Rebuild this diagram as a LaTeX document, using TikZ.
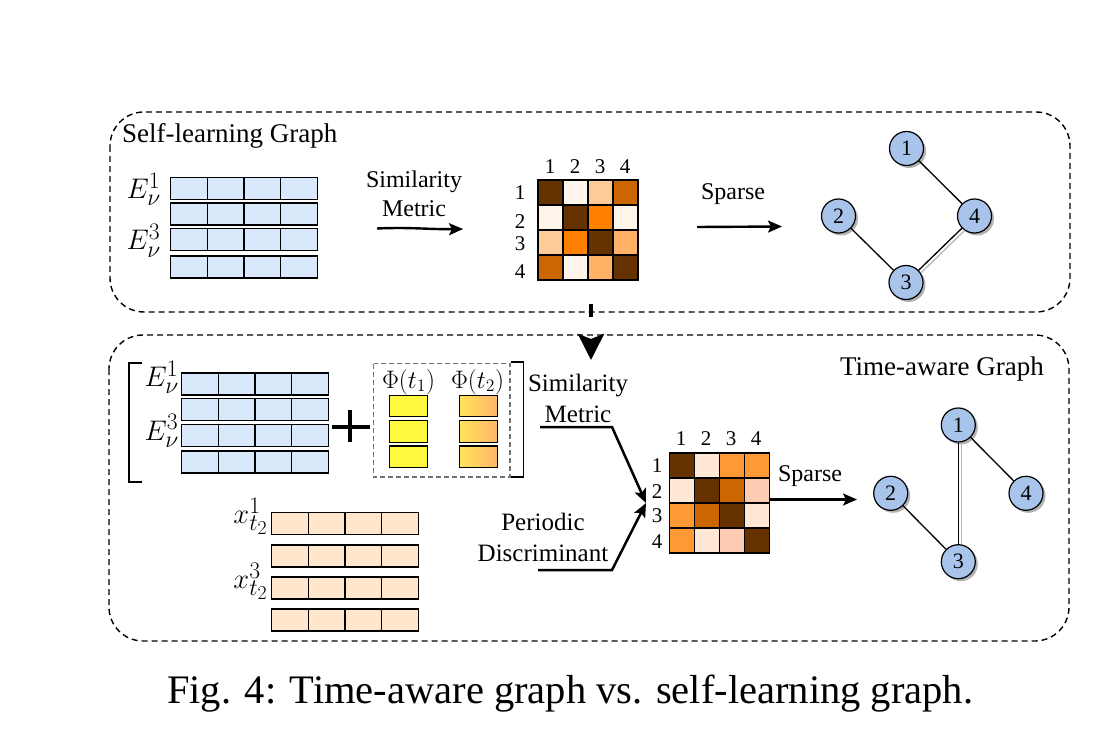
\documentclass[tikz,border=0pt]{standalone}
\usepackage{fontspec}
\setmainfont{Liberation Serif}
\usetikzlibrary{arrows.meta,calc,shadows}
\definecolor{embblue}{HTML}{DAE8FC}
\definecolor{embpeach}{HTML}{FFE6CC}
\definecolor{nodeblue}{HTML}{A9C4EB}
\definecolor{phiyel}{HTML}{FFF83F}
\definecolor{phiyelb}{HTML}{FFE45A}
\definecolor{phiora}{HTML}{FFB56A}
\definecolor{mA}{HTML}{663300}
\definecolor{mB}{HTML}{FFF5EB}
\definecolor{mC}{HTML}{FDCB98}
\definecolor{mD}{HTML}{CC6600}
\definecolor{mE}{HTML}{FF8000}
\definecolor{mF}{HTML}{FFB266}
\definecolor{mG}{HTML}{FF9933}
\definecolor{mH}{HTML}{FFE8D6}
\definecolor{mI}{HTML}{FFCBB3}
\newcommand\bigmath[1]{\scalebox{1.14}{\fontsize{24.88}{26}\selectfont$#1$}}
\newcommand\phimath[1]{\scalebox{1.22}{\fontsize{20.74}{22}\selectfont$#1$}}
\begin{document}
\begin{tikzpicture}[x=1pt,y=-1pt,
  emb/.style={draw, line width=1.4pt, minimum width=147pt, minimum height=22pt, inner sep=0pt,
    path picture={\foreach \k in {1,2,3}{\draw[line width=1.4pt]
      ($(path picture bounding box.north west)!\k/4!(path picture bounding box.north east)$) --
      ($(path picture bounding box.south west)!\k/4!(path picture bounding box.south east)$);}}},
  phibox/.style={draw, line width=1.4pt, minimum width=38pt, minimum height=21.5pt, inner sep=0pt},
  gnode/.style={circle, draw, line width=1.2pt, fill=nodeblue, minimum size=34pt, inner sep=0pt,
    font=\fontsize{22}{22}\selectfont,
    drop shadow={shadow xshift=2.5pt, shadow yshift=-2.5pt, fill=black!30, opacity=1}},
  gedge/.style={line width=1.3pt},
  gshadow/.style={line width=1.3pt, black!28},
  ptxt/.style={font=\fontsize{24}{29}\selectfont, align=center, inner sep=0pt},
  mlab/.style={font=\fontsize{21}{21}\selectfont, inner sep=0pt},
  mathlab/.style={inner sep=0pt},
  bigarrow/.style={line width=2.4pt, -{Stealth[length=14pt,width=12pt,inset=3pt]}},
  dashbox/.style={line width=1.4pt, dash pattern=on 6pt off 4pt, rounded corners=34pt},
  mframe/.style={draw, line width=1.4pt, minimum size=100pt, inner sep=0pt}
]
\useasboundingbox (0,0) rectangle (1108,751);
\fill[white] (0,0) rectangle (1108,751);

% ---------------- panels
\draw[dashbox] (110,112) rectangle (1070,312);
\draw[dashbox] (109,335) rectangle (1069,641);
\node[font=\fontsize{27}{27}\selectfont, anchor=base west, inner sep=0pt] (t1) at (122,143) {Self-learning Graph};
\node[font=\fontsize{27}{27}\selectfont, anchor=base, inner sep=0pt] (t2) at (942,375) {Time-aware Graph};

% ---------------- top embeddings
\node[emb, fill=embblue] (a1) at (244,188.5) {};
\node[emb, fill=embblue] (a2) at (244,214) {};
\node[emb, fill=embblue] (a3) at (244,239.5) {};
\node[emb, fill=embblue] (a4) at (244,267) {};
\node[mathlab, anchor=base east] (la1) at (161,198.3) {\bigmath{E_\nu^1}};
\node[mathlab, anchor=base east] (la3) at (161,250) {\bigmath{E_\nu^3}};

\node[ptxt] (sm1) at (414,193.5) {Similarity\\Metric};
\coordinate (s1a) at (377,228.5);
\coordinate (s1b) at (463,229);
\draw[bigarrow] (s1a) .. controls (410,227) and (430,229.5) .. (s1b);

% ---------------- top matrix
\foreach \c [count=\j from 0] in {mA,mB,mC,mD}{\fill[\c] (538+\j*25,180) rectangle ++(25,25);}
\foreach \c [count=\j from 0] in {mB,mA,mE,mB}{\fill[\c] (538+\j*25,205) rectangle ++(25,25);}
\foreach \c [count=\j from 0] in {mC,mE,mA,mF}{\fill[\c] (538+\j*25,230) rectangle ++(25,25);}
\foreach \c [count=\j from 0] in {mD,mB,mF,mA}{\fill[\c] (538+\j*25,255) rectangle ++(25,25);}
\foreach \j in {1,2,3}{
  \draw[line width=1.4pt] (538+\j*25,180) -- (538+\j*25,280);
  \draw[line width=1.4pt] (538,180+\j*25) -- (638,180+\j*25);}
\node[mframe] (M1) at (588,230) {};
\foreach \n [count=\j from 0] in {1,2,3,4}{\node[mlab] (M1c\n) at (550+\j*25,167) {\n};}
\node[mlab] (M1r1) at (520,193) {1};
\node[mlab] (M1r2) at (520,221.5) {2};
\node[mlab] (M1r3) at (520,244) {3};
\node[mlab] (M1r4) at (520,271.5) {4};

\node[ptxt, anchor=base] (sp1) at (733,200) {Sparse};
\coordinate (p1a) at (697,227);
\coordinate (p1b) at (782,226.5);
\draw[bigarrow] (p1a) -- (p1b);

% ---------------- top graph
\node[gnode] (u1) at (906.5,148.5) {1};
\node[gnode] (u2) at (838.5,216) {2};
\node[gnode] (u4) at (974.5,216) {4};
\node[gnode] (u3) at (906,282.5) {3};
\draw[gshadow, transform canvas={xshift=2.5pt,yshift=-2.5pt}] (u3) -- (u4);
\draw[gedge] (u1) -- (u4);
\draw[gedge] (u2) -- (u3);
\draw[gedge] (u3) -- (u4);

% ---------------- down arrow
\coordinate (d1) at (591,304);
\coordinate (d2) at (591,360);
\draw[line width=4pt, dash pattern=on 13pt off 30pt, -{Stealth[length=26pt,width=26pt,inset=5pt]}] (d1) -- (d2);

% ---------------- bottom embeddings
\draw[line width=1.5pt] (142,363) -- (129,363) -- (129,482) -- (142,482);
\node[emb, fill=embblue] (b1) at (255,384) {};
\node[emb, fill=embblue] (b2) at (255,409.5) {};
\node[emb, fill=embblue] (b3) at (255,435.5) {};
\node[emb, fill=embblue] (b4) at (255,462) {};
\node[mathlab, anchor=base east] (lb1) at (179,386.7) {\bigmath{E_\nu^1}};
\node[mathlab, anchor=base east] (lb3) at (179,440) {\bigmath{E_\nu^3}};

\draw[line width=3.5pt] (331.5,427) -- (370,427);
\draw[line width=3.5pt] (350,410) -- (350,442);

\draw[black!55, line width=1.3pt, dash pattern=on 5pt off 3pt] (373.5,363.5) rectangle (510,477);
\node[anchor=base, inner sep=0pt] (ph1) at (408.5,388) {\phimath{\Phi(t_1)}};
\node[anchor=base, inner sep=0pt] (ph2) at (477.5,388) {\phimath{\Phi(t_2)}};
\node[phibox, fill=phiyel] (y1) at (408.3,406) {};
\node[phibox, fill=phiyel] (y2) at (408.3,431.5) {};
\node[phibox, fill=phiyel] (y3) at (408.3,456.7) {};
\node[phibox, left color=phiyelb, right color=phiora] (z1) at (478.3,406) {};
\node[phibox, left color=phiyelb, right color=phiora] (z2) at (478.3,431.5) {};
\node[phibox, left color=phiyelb, right color=phiora] (z3) at (478.3,456.7) {};
\draw[line width=1.5pt] (511,362) -- (523.5,362) -- (523.5,477) -- (511,477);

% x_{t2} rows
\node[emb, fill=embpeach] (c1) at (345,523.5) {};
\node[emb, fill=embpeach] (c2) at (345,556) {};
\node[emb, fill=embpeach] (c3) at (345,588) {};
\node[emb, fill=embpeach] (c4) at (345,620) {};
\node[mathlab, anchor=base east] (lc1) at (268,523.3) {\bigmath{x_{t_2}^1}};
\node[mathlab, anchor=base east] (lc3) at (268,588.3) {\bigmath{x_{t_2}^3}};

% labels and merging arrows
\node[ptxt, font=\fontsize{25}{31}\selectfont] (sm2) at (578,398.7) {Similarity\\Metric};
\node[ptxt, font=\fontsize{25}{31}\selectfont] (pd) at (543,537.6) {Periodic\\Discriminant};
\coordinate (m2in) at (646,503);
\coordinate (q1) at (540,427);
\coordinate (q2) at (612,427);
\coordinate (r1) at (538,570);
\coordinate (r2) at (612,570);
\draw[line width=2.5pt, -{Stealth[length=14pt,width=12pt,inset=3pt]}] (q1) -- (q2) -- (m2in);
\draw[line width=2.5pt, -{Stealth[length=14pt,width=12pt,inset=3pt]}] (r1) -- (r2) -- (m2in);

% ---------------- bottom matrix
\foreach \c [count=\j from 0] in {mA,mH,mG,mG}{\fill[\c] (669.5+\j*25,453) rectangle ++(25,25);}
\foreach \c [count=\j from 0] in {mH,mA,mD,mI}{\fill[\c] (669.5+\j*25,478) rectangle ++(25,25);}
\foreach \c [count=\j from 0] in {mG,mD,mA,mH}{\fill[\c] (669.5+\j*25,503) rectangle ++(25,25);}
\foreach \c [count=\j from 0] in {mG,mH,mI,mA}{\fill[\c] (669.5+\j*25,528) rectangle ++(25,25);}
\foreach \j in {1,2,3}{
  \draw[line width=1.4pt] (669.5+\j*25,453) -- (669.5+\j*25,553);
  \draw[line width=1.4pt] (669.5,453+\j*25) -- (769.5,453+\j*25);}
\node[mframe] (M2) at (719.5,503) {};
\foreach \n [count=\j from 0] in {1,2,3,4}{\node[mlab] (M2c\n) at (681+\j*25,439) {\n};}
\node[mlab] (M2r1) at (657,466) {1};
\node[mlab] (M2r2) at (657,491.5) {2};
\node[mlab] (M2r3) at (657,516) {3};
\node[mlab] (M2r4) at (657,541.5) {4};

\node[ptxt, anchor=base] (sp2) at (810,481) {Sparse};
\coordinate (p2b) at (857,499.5);
\draw[bigarrow] (M2.east |- p2b) -- (p2b);

% ---------------- bottom graph
\node[gnode] (v1) at (958.3,425) {1};
\node[gnode] (v2) at (890.7,493.3) {2};
\node[gnode] (v4) at (1026,493.3) {4};
\node[gnode] (v3) at (958.3,561.7) {3};
\draw[gshadow, transform canvas={xshift=3pt}] (v1) -- (v3);
\draw[gedge] (v1) -- (v3);
\draw[gedge] (v1) -- (v4);
\draw[gedge] (v2) -- (v3);

% ---------------- caption
\node[anchor=base west, inner sep=0pt, font=\fontsize{40.5}{44}\selectfont] (cap) at (167,703) {Fig. 4: Time-aware graph vs. self-learning graph.};
\end{tikzpicture}
\end{document}
